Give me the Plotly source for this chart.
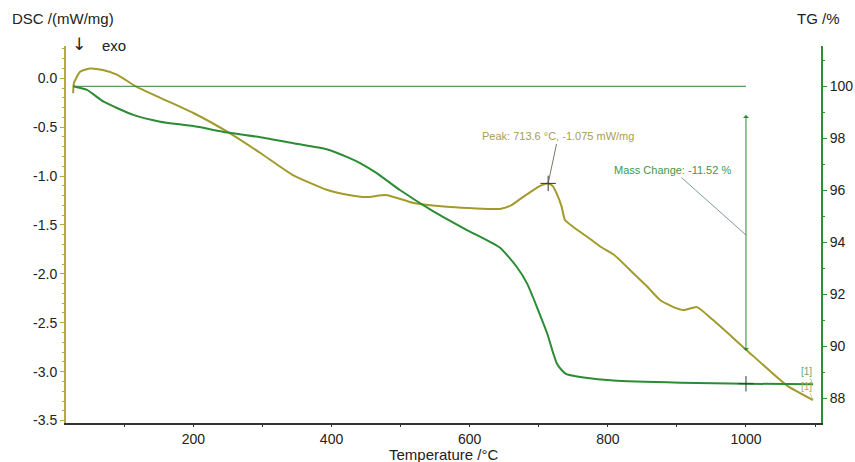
import plotly.graph_objects as go

# ---------------- data ----------------
T_dsc = [26, 27, 36, 50, 69, 90, 116, 152, 200, 249, 297, 344, 393, 423, 450, 480,
         519, 572, 644, 660, 678, 702, 713.6, 720, 726, 733, 738, 750, 770, 789, 808,
         835, 857, 876, 895, 910, 929, 952, 1001, 1059, 1097]
dsc = [-0.153, -0.05, 0.067, 0.10, 0.085, 0.035, -0.08, -0.20, -0.355, -0.546, -0.764,
       -0.99, -1.14, -1.19, -1.215, -1.195, -1.275, -1.316, -1.336, -1.30, -1.21, -1.10,
       -1.075, -1.10, -1.18, -1.31, -1.45, -1.52, -1.62, -1.72, -1.80, -1.98, -2.13,
       -2.27, -2.34, -2.37, -2.34, -2.47, -2.78, -3.14, -3.29]

T_tg = [26, 46, 70, 113, 152, 200, 249, 297, 345, 393, 427, 442, 466, 499, 548, 596,
        644, 668, 683, 712, 721, 726, 733, 740, 765, 808, 905, 1000, 1097]
tg = [100.0, 99.86, 99.41, 98.90, 98.64, 98.47, 98.22, 98.04, 97.81, 97.58, 97.23,
      97.04, 96.65, 96.01, 95.18, 94.47, 93.79, 93.06, 92.42, 90.51, 89.73, 89.35,
      89.09, 88.93, 88.80, 88.68, 88.60, 88.56, 88.54]

ref_T = [26, 1000]
ref_tg = [100.0, 100.0]

peak_T, peak_dsc = 713.6, -1.075
mass_T, mass_end = 1000, 88.56
arrow_top, arrow_bottom, leader_tg = 98.9, 89.76, 94.28

x_ticks = [200, 400, 600, 800, 1000]
x_ticktext = ["200", "400", "600", "800", "1000"]
dsc_ticks = [0.0, -0.5, -1.0, -1.5, -2.0, -2.5, -3.0, -3.5]
dsc_ticktext = ["0.0", "-0.5", "-1.0", "-1.5", "-2.0", "-2.5", "-3.0", "-3.5"]
tg_ticks = [88, 90, 92, 94, 96, 98, 100]
tg_ticktext = ["88", "90", "92", "94", "96", "98", "100"]

# ---------------- styling ----------------
OLIVE = "#a39a2c"
OLIVE_AX = "#b3ab3c"
GREEN = "#2b8c34"
GREEN_AX = "#2f8f35"
FONT = "Liberation Sans, Arial, sans-serif"

fig = go.Figure()

fig.add_trace(go.Scatter(x=ref_T, y=ref_tg, yaxis="y2", mode="lines",
                         line=dict(color="#3a7f3a", width=1), hoverinfo="skip"))
fig.add_trace(go.Scatter(x=T_tg, y=tg, yaxis="y2", mode="lines",
                         line=dict(color=GREEN, width=2, shape="spline", smoothing=0.5)))
fig.add_trace(go.Scatter(x=T_dsc, y=dsc, mode="lines",
                         line=dict(color=OLIVE, width=2, shape="spline", smoothing=0.5)))
fig.add_trace(go.Scatter(x=[peak_T], y=[peak_dsc], mode="markers",
                         marker=dict(symbol="cross-thin", size=11,
                                     line=dict(color="#333333", width=1))))
fig.add_trace(go.Scatter(x=[mass_T], y=[mass_end], yaxis="y2", mode="markers",
                         marker=dict(symbol="cross-thin", size=11,
                                     line=dict(color="#224422", width=1))))

L, R, T, B = 66, 34, 46, 39
W, H = 855, 462
pw, ph = W - L - R, H - T - B


def px(xp):
    return (xp - L) / pw


def py(yp):
    return (H - B - yp) / ph


annotations = [
    dict(text="DSC /(mW/mg)", xref="paper", yref="paper", x=px(10), y=py(19),
         xanchor="left", yanchor="middle", showarrow=False,
         font=dict(size=15, color="#222222")),
    dict(text="TG /%", xref="paper", yref="paper", x=px(842), y=py(19),
         xanchor="right", yanchor="middle", showarrow=False,
         font=dict(size=15, color="#222222")),
    dict(text="↓", xref="paper", yref="paper", x=px(79), y=py(44),
         xanchor="center", yanchor="middle", showarrow=False,
         font=dict(size=17, color="#222222", family="DejaVu Sans")),
    dict(text="exo", xref="paper", yref="paper", x=px(100), y=py(45),
         xanchor="left", yanchor="middle", showarrow=False,
         font=dict(size=15, color="#222222")),
    dict(text="Temperature /°C", xref="paper", yref="paper", x=0.5, y=py(454),
         xanchor="center", yanchor="middle", showarrow=False,
         font=dict(size=15, color="#222222")),
    dict(text="Peak: 713.6 °C, -1.075 mW/mg", x=peak_T, y=peak_dsc, xref="x", yref="y",
         ax=10, ay=-47, showarrow=True, arrowhead=0, arrowwidth=0.8, arrowcolor="#555544",
         font=dict(size=11, color="#a6a050")),
    dict(text="Mass Change: -11.52 %", x=mass_T, y=leader_tg, xref="x", yref="y2",
         ax=-73, ay=-65, showarrow=True, arrowhead=0, arrowwidth=0.8, arrowcolor="#5a7f86",
         font=dict(size=11, color="#3d9a4a")),
    dict(text="", x=mass_T, y=arrow_top, xref="x", yref="y2",
         ax=mass_T, ay=arrow_bottom, axref="x", ayref="y2",
         showarrow=True, arrowhead=1, arrowside="end+start", arrowsize=1,
         arrowwidth=1, arrowcolor=GREEN),
    dict(text="[1]", x=T_tg[-1], y=tg[-1], xref="x", yref="y2",
         ax=-6, ay=-13, showarrow=True, arrowhead=0, arrowwidth=0.7, arrowcolor="#7ab07a",
         font=dict(size=10, color="#6aa86a")),
    dict(text="[1]", x=T_dsc[-1], y=dsc[-1], xref="x", yref="y",
         ax=-6, ay=-14, showarrow=True, arrowhead=0, arrowwidth=0.7, arrowcolor="#b8b070",
         font=dict(size=10, color="#b0a860")),
]

fig.update_layout(
    width=W, height=H,
    margin=dict(l=L, r=R, t=T, b=B),
    paper_bgcolor="white", plot_bgcolor="white",
    showlegend=False,
    font=dict(family=FONT, size=14, color="#222222"),
    annotations=annotations,
    xaxis=dict(range=[15.6, 1108.6], tickvals=x_ticks, ticktext=x_ticktext,
               ticks="outside", ticklen=2, tickcolor="#333333",
               minor=dict(dtick=100, tick0=0, ticks="outside", ticklen=2, tickcolor="#333333"),
               showline=True, linecolor="#333333", linewidth=2,
               showgrid=False, zeroline=False,
               tickfont=dict(size=14, color="#222222"),
               automargin=False),
    yaxis=dict(range=[-3.525, 0.33], tickvals=dsc_ticks, ticktext=dsc_ticktext,
               ticks="outside", ticklen=4, tickcolor=OLIVE_AX,
               minor=dict(dtick=0.1, tick0=0, ticks="outside", ticklen=2, tickcolor=OLIVE_AX),
               showline=True, linecolor=OLIVE_AX, linewidth=2,
               showgrid=False, zeroline=False,
               tickfont=dict(size=14, color="#222222"), automargin=False),
    yaxis2=dict(range=[87.05, 101.55], overlaying="y", side="right",
                tickvals=tg_ticks, ticktext=tg_ticktext,
                ticks="outside", ticklen=4, tickcolor=GREEN_AX,
                minor=dict(dtick=1, tick0=0, ticks="outside", ticklen=2, tickcolor=GREEN_AX),
                showline=True, linecolor=GREEN_AX, linewidth=2,
                showgrid=False, zeroline=False,
                tickfont=dict(size=14, color="#222222"), automargin=False),
)

fig.write_html("out.html")
